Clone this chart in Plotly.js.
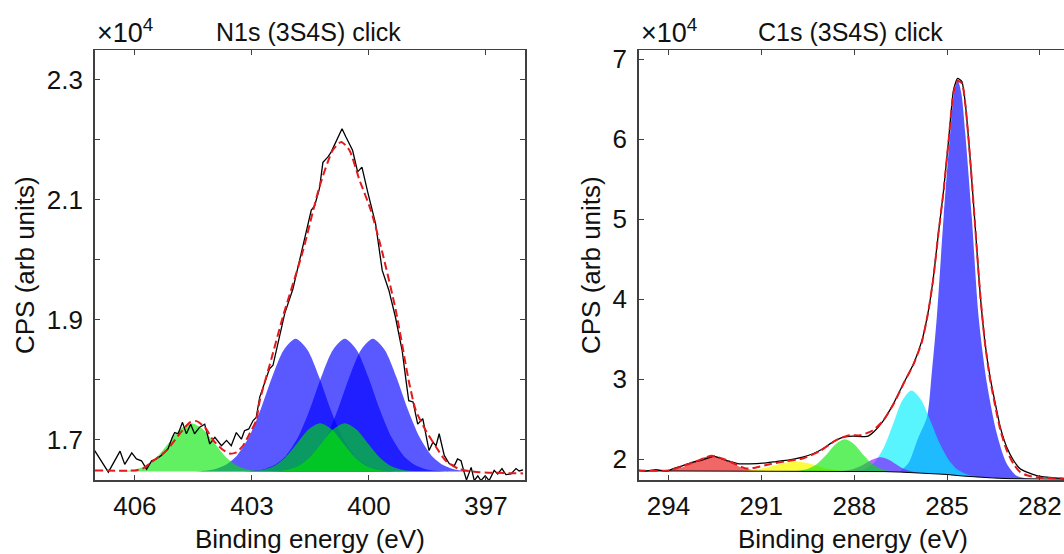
<!DOCTYPE html>
<html><head><meta charset="utf-8">
<script src="https://cdn.plot.ly/plotly-3.0.1.min.js"></script>
<style>html,body{margin:0;padding:0;overflow:hidden;background:#fff}#chart{width:1070px;height:554px}</style>
</head><body><div id="chart"></div>
<script>
// ---------- N1s panel (CPS in units of 1e4) ----------
const N1S_X = [407.03,406.68,406.38,406.26,406.08,405.96,405.83,405.70,405.57,405.45,405.32,405.15,405.04,404.98,404.89,404.78,404.68,404.57,404.47,404.34,404.21,404.08,403.95,403.78,403.65,403.53,403.40,403.27,403.19,403.08,402.97,402.89,402.80,402.55,402.46,402.16,401.95,401.74,401.48,401.39,401.27,401.18,401.05,400.97,400.84,400.69,400.59,400.42,400.29,400.18,400.03,399.83,399.66,399.49,399.32,399.15,399.05,398.98,398.87,398.75,398.62,398.46,398.36,398.28,398.20,398.07,397.94,397.81,397.73,397.64,397.56,397.50,397.38,397.30,397.21,397.13,397.02,396.92,396.79,396.70,396.59,396.49,396.36,396.23,396.15,396.05];
const N1S_Y = [1.682,1.646,1.681,1.659,1.678,1.668,1.665,1.651,1.665,1.668,1.674,1.685,1.704,1.712,1.710,1.729,1.710,1.726,1.710,1.721,1.726,1.693,1.704,1.690,1.699,1.690,1.712,1.701,1.715,1.718,1.732,1.737,1.771,1.818,1.824,1.910,1.951,2.010,2.082,2.090,2.118,2.162,2.171,2.179,2.196,2.218,2.204,2.182,2.146,2.154,2.112,2.060,1.982,1.949,1.904,1.849,1.799,1.765,1.763,1.726,1.735,1.682,1.696,1.690,1.710,1.674,1.660,1.657,1.668,1.665,1.646,1.633,1.654,1.632,1.640,1.632,1.640,1.632,1.649,1.643,1.652,1.642,1.643,1.652,1.648,1.650];
const N1S_FIT_X = [407.03,406.0,405.8,405.57,405.19,404.85,404.59,404.42,404.21,403.99,403.78,403.57,403.40,403.23,403.06,402.89,402.80,402.50,402.21,401.69,401.27,400.93,400.71,400.50,400.24,399.95,399.65,399.31,398.97,398.80,398.54,398.28,398.03,397.68,397.17,396.05];
const N1S_FIT_Y = [1.649,1.649,1.652,1.663,1.682,1.710,1.729,1.731,1.721,1.699,1.685,1.677,1.679,1.690,1.710,1.732,1.765,1.835,1.904,2.015,2.121,2.182,2.196,2.182,2.132,2.082,2.010,1.915,1.795,1.749,1.715,1.688,1.665,1.651,1.646,1.644];
const N1S_BASE = 1.647;
const N1S_B1_X = [404.58,404.28,403.98,403.68,403.38,403.08,402.78,402.48,402.18,401.88,401.58,401.28,400.98,400.68,400.38,400.08,399.78,399.48,399.18];
const N1S_B1_Y = [1.647,1.648,1.6505,1.658,1.674,1.704,1.750,1.805,1.850,1.868,1.850,1.805,1.750,1.704,1.674,1.658,1.6505,1.648,1.647];
const N1S_B2_X = [403.32,403.02,402.72,402.42,402.12,401.82,401.52,401.22,400.92,400.62,400.32,400.02,399.72,399.42,399.12,398.82,398.52,398.22,397.92];
const N1S_B2_Y = [1.647,1.648,1.6505,1.658,1.674,1.704,1.750,1.805,1.850,1.868,1.850,1.805,1.750,1.704,1.674,1.658,1.6505,1.648,1.647];
const N1S_B3_X = [402.60,402.30,402.00,401.70,401.40,401.10,400.80,400.50,400.20,399.90,399.60,399.30,399.00,398.70,398.40,398.10,397.80,397.50,397.20];
const N1S_B3_Y = [1.647,1.648,1.6505,1.658,1.674,1.704,1.750,1.805,1.850,1.868,1.850,1.805,1.750,1.704,1.674,1.658,1.6505,1.648,1.647];
const N1S_G1_X = [406.65,406.35,406.05,405.75,405.45,405.15,404.85,404.55,404.25,403.95,403.65,403.35,403.05,402.75,402.45];
const N1S_G1_Y = [1.647,1.6476,1.6495,1.6558,1.6702,1.6933,1.717,1.7275,1.717,1.6933,1.6702,1.6558,1.6495,1.6476,1.647];
const N1S_G2_X = [403.35,403.05,402.75,402.45,402.15,401.85,401.55,401.25,400.95,400.65,400.35,400.05,399.75,399.45,399.15];
const N1S_G2_Y = [1.647,1.6476,1.6495,1.6558,1.6702,1.6933,1.717,1.7275,1.717,1.6933,1.6702,1.6558,1.6495,1.6476,1.647];
const N1S_G3_X = [402.72,402.42,402.12,401.82,401.52,401.22,400.92,400.62,400.32,400.02,399.72,399.42,399.12,398.82,398.52];
const N1S_G3_Y = [1.647,1.6476,1.6495,1.6558,1.6702,1.6933,1.717,1.7275,1.717,1.6933,1.6702,1.6558,1.6495,1.6476,1.647];
const N1S_XTICKS = [406,403,400,397];
const N1S_YTICKS = [1.7,1.9,2.1,2.3];

// ---------- C1s panel (CPS in units of 1e4) ----------
const C1S_X = [295.04,294.72,294.40,294.07,293.86,293.53,293.21,292.89,292.57,292.35,292.14,291.92,291.71,291.38,290.95,290.52,290.09,289.66,289.33,289.01,288.69,288.36,288.04,287.59,287.38,287.05,286.73,286.41,286.08,285.81,285.60,285.44,285.28,285.11,284.95,284.79,284.66,284.52,284.41,284.25,284.09,283.93,283.77,283.61,283.44,283.28,283.07,282.85,282.64,282.42,282.10,281.77,281.21];
const C1S_Y = [1.869,1.851,1.869,1.851,1.881,1.922,1.964,1.993,2.035,2.018,1.985,1.964,1.943,1.943,1.951,1.972,1.993,2.026,2.069,2.131,2.214,2.277,2.290,2.285,2.339,2.486,2.695,2.945,3.195,3.487,3.862,4.279,4.822,5.364,5.990,6.616,6.762,6.720,6.449,5.740,4.905,4.071,3.446,3.028,2.695,2.402,2.151,1.985,1.881,1.839,1.797,1.776,1.756];
const C1S_FIT_X = [295.0,294.0,293.5,293.0,292.6,292.2,291.9,291.5,291.2,290.7,290.2,289.66,289.12,288.58,288.15,287.8,287.4,287.05,286.7,286.4,286.08,285.81,285.6,285.44,285.28,285.11,284.95,284.79,284.66,284.52,284.41,284.25,284.09,283.93,283.77,283.61,283.44,283.28,283.07,282.85,282.64,282.42,282.1,281.77,281.1];
const C1S_FIT_Y = [1.86,1.86,1.92,1.99,2.045,2.0,1.95,1.885,1.895,1.94,1.975,2.01,2.10,2.24,2.30,2.30,2.36,2.49,2.71,2.95,3.19,3.47,3.86,4.27,4.82,5.36,5.98,6.58,6.73,6.70,6.44,5.74,4.90,4.07,3.44,3.0,2.66,2.37,2.11,1.94,1.84,1.80,1.775,1.765,1.76];
const C1S_BG_X = [295,293,291,289,288,287.5,287,286.5,286,285.5,285,284.5,284,283.5,283,282.5,282,281.1];
const C1S_BG_Y = [1.855,1.854,1.852,1.851,1.85,1.848,1.846,1.84,1.832,1.822,1.81,1.791,1.775,1.766,1.758,1.755,1.754,1.752];
// components: x, top, bottom (background)
const C1S_RED_X = [294.7,294.4,294.1,293.8,293.5,293.2,292.9,292.6,292.3,292.0,291.7,291.4,291.1,290.8,290.5];
const C1S_RED_TOP = [1.853,1.854,1.859,1.874,1.908,1.962,2.018,2.043,2.018,1.962,1.908,1.874,1.859,1.854,1.853];
const C1S_RED_BOT = [1.853,1.853,1.853,1.853,1.853,1.853,1.853,1.853,1.853,1.853,1.853,1.853,1.853,1.853,1.853];
const C1S_YEL_X = [292.0,291.7,291.4,291.1,290.8,290.5,290.2,289.9,289.6,289.3,289.0,288.7,288.4,288.1,287.8];
const C1S_YEL_TOP = [1.851,1.853,1.860,1.874,1.900,1.932,1.960,1.972,1.960,1.932,1.895,1.870,1.857,1.852,1.849];
const C1S_YEL_BOT = [1.852,1.852,1.852,1.852,1.852,1.852,1.851,1.851,1.851,1.851,1.851,1.850,1.850,1.850,1.849];
const C1S_GRN_X = [290.4,290.1,289.8,289.5,289.2,288.9,288.6,288.3,288.0,287.7,287.4,287.1,286.8,286.5,286.2];
const C1S_GRN_TOP = [1.851,1.852,1.857,1.879,1.941,2.056,2.189,2.25,2.189,2.054,1.937,1.874,1.849,1.841,1.834];
const C1S_GRN_BOT = [1.851,1.851,1.851,1.851,1.851,1.850,1.850,1.850,1.850,1.848,1.847,1.846,1.843,1.840,1.834];
const C1S_PUR_X = [288.65,288.35,288.05,287.75,287.45,287.15,286.85,286.55,286.25,285.95,285.65];
const C1S_PUR_TOP = [1.851,1.855,1.874,1.922,1.991,2.026,1.988,1.914,1.859,1.834,1.823];
const C1S_PUR_BOT = [1.850,1.850,1.850,1.848,1.847,1.846,1.844,1.840,1.835,1.829,1.823];
const C1S_CYN_X = [288.25,287.95,287.65,287.35,287.05,286.75,286.45,286.15,285.85,285.55,285.25,284.95,284.65,284.35,284.05,283.75];
const C1S_CYN_TOP = [1.851,1.857,1.880,1.959,2.141,2.433,2.733,2.861,2.751,2.493,2.209,1.995,1.868,1.809,1.782,1.770];
const C1S_CYN_BOT = [1.850,1.850,1.848,1.847,1.846,1.843,1.839,1.835,1.829,1.823,1.816,1.808,1.796,1.786,1.777,1.770];
const C1S_BLU_X = [286.55,286.25,285.95,285.65,285.50,285.33,285.11,284.90,284.78,284.66,284.54,284.41,284.20,283.98,283.71,283.39,283.07,282.74,282.40];
const C1S_BLU_TOP = [1.840,1.95,2.25,2.527,3.05,3.778,5.03,6.07,6.55,6.74,6.58,6.07,5.03,3.78,2.945,2.319,1.944,1.79,1.755];
const C1S_BLU_BOT = [1.840,1.836,1.832,1.824,1.821,1.817,1.811,1.805,1.800,1.797,1.793,1.789,1.781,1.774,1.770,1.764,1.758,1.756,1.755];
const C1S_XTICKS = [294,291,288,285,282];
const C1S_YTICKS = [2,3,4,5,6,7];

// ---------- helpers ----------
function area(xs, tops, bots, color, xa, ya) {
  const px = xs.concat(xs.slice(1, -1).reverse());
  const py = tops.concat(bots.slice(1, -1).reverse());
  return {x: px, y: py, xaxis: xa, yaxis: ya, type: 'scatter', mode: 'lines',
    fill: 'toself', fillcolor: color, line: {width: 0, shape: 'spline', smoothing: 0.8},
    hoverinfo: 'skip', showlegend: false};
}
function flat(xs, v) { return xs.map(() => v); }

const BLUE = 'rgba(0,0,255,0.65)';
const GREEN = 'rgba(0,230,0,0.62)';
const traces = [
  area(N1S_B1_X, N1S_B1_Y, flat(N1S_B1_X, N1S_BASE), BLUE, 'x', 'y'),
  area(N1S_B2_X, N1S_B2_Y, flat(N1S_B2_X, N1S_BASE), BLUE, 'x', 'y'),
  area(N1S_B3_X, N1S_B3_Y, flat(N1S_B3_X, N1S_BASE), BLUE, 'x', 'y'),
  area(N1S_G1_X, N1S_G1_Y, flat(N1S_G1_X, N1S_BASE), GREEN, 'x', 'y'),
  area(N1S_G2_X, N1S_G2_Y, flat(N1S_G2_X, N1S_BASE), GREEN, 'x', 'y'),
  area(N1S_G3_X, N1S_G3_Y, flat(N1S_G3_X, N1S_BASE), GREEN, 'x', 'y'),
  {x: N1S_X, y: N1S_Y, xaxis: 'x', yaxis: 'y', type: 'scatter', mode: 'lines',
   line: {color: '#000', width: 1.3}, showlegend: false},
  {x: N1S_FIT_X, y: N1S_FIT_Y, xaxis: 'x', yaxis: 'y', type: 'scatter', mode: 'lines',
   line: {color: '#e3191c', width: 2, dash: '8px,4px', shape: 'spline', smoothing: 0.6}, showlegend: false},

  area(C1S_RED_X, C1S_RED_TOP, C1S_RED_BOT, 'rgba(232,0,0,0.6)', 'x2', 'y2'),
  area(C1S_YEL_X, C1S_YEL_TOP, C1S_YEL_BOT, 'rgba(250,250,0,0.75)', 'x2', 'y2'),
  area(C1S_BLU_X, C1S_BLU_TOP, C1S_BLU_BOT, BLUE, 'x2', 'y2'),
  area(C1S_CYN_X, C1S_CYN_TOP, C1S_CYN_BOT, 'rgba(0,240,255,0.65)', 'x2', 'y2'),
  area(C1S_PUR_X, C1S_PUR_TOP, C1S_PUR_BOT, 'rgba(140,0,255,0.6)', 'x2', 'y2'),
  area(C1S_GRN_X, C1S_GRN_TOP, C1S_GRN_BOT, GREEN, 'x2', 'y2'),
  {x: C1S_BG_X, y: C1S_BG_Y, xaxis: 'x2', yaxis: 'y2', type: 'scatter', mode: 'lines',
   line: {color: '#000', width: 1}, showlegend: false},
  {x: C1S_X, y: C1S_Y, xaxis: 'x2', yaxis: 'y2', type: 'scatter', mode: 'lines',
   line: {color: '#000', width: 1.3, shape: 'spline', smoothing: 0.5}, showlegend: false},
  {x: C1S_FIT_X, y: C1S_FIT_Y, xaxis: 'x2', yaxis: 'y2', type: 'scatter', mode: 'lines',
   line: {color: '#e3191c', width: 2, dash: '8px,4px', shape: 'spline', smoothing: 0.6}, showlegend: false}
];

const W = 1070, TOP = 50, PH = 430;
const FONT = 'Liberation Sans, Arial, Helvetica, sans-serif';
const AX = {showline: true, linecolor: '#404040', linewidth: 1.5, mirror: 'ticks', ticks: 'inside',
  ticklen: 5, tickwidth: 1, tickcolor: '#404040', showgrid: false, zeroline: false,
  tickfont: {family: FONT, size: 26, color: '#111'}, fixedrange: true};
const px = v => v / W;
const py = v => (TOP + PH - v) / PH;

const layout = {
  width: W, height: 554, margin: {l: 0, r: 0, t: TOP, b: 554 - TOP - PH},
  paper_bgcolor: '#fff', plot_bgcolor: '#fff', showlegend: false,
  xaxis: Object.assign({}, AX, {domain: [px(94.7), px(525)], range: [407.03, 396.0], anchor: 'y',
    tickmode: 'array', tickvals: N1S_XTICKS, ticktext: N1S_XTICKS.map(String), ticklabelstandoff: 2}),
  yaxis: Object.assign({}, AX, {domain: [0, 1], range: [1.633, 2.349], anchor: 'x',
    tickmode: 'array', tickvals: N1S_YTICKS, ticktext: N1S_YTICKS.map(v => v.toFixed(1)), ticklabelstandoff: 5,
    minor: {tickmode: 'linear', tick0: 1.6, dtick: 0.1, ticks: 'inside', ticklen: 5, tickcolor: '#404040', showgrid: false}}),
  xaxis2: Object.assign({}, AX, {domain: [px(638.7), px(1068.7)], range: [294.96, 281.07], anchor: 'y2',
    tickmode: 'array', tickvals: C1S_XTICKS, ticktext: C1S_XTICKS.map(String), ticklabelstandoff: 2}),
  yaxis2: Object.assign({}, AX, {domain: [0, 1], range: [1.741, 7.116], anchor: 'x2',
    tickmode: 'array', tickvals: C1S_YTICKS, ticktext: C1S_YTICKS.map(String), ticklabelstandoff: 5}),
  annotations: [
    {text: 'N1s (3S4S) click', x: px(308), y: py(32.5), xref: 'paper', yref: 'paper', xanchor: 'center', yanchor: 'middle', showarrow: false, font: {family: FONT, size: 25, color: '#111'}},
    {text: 'C1s (3S4S) click', x: px(850), y: py(32.5), xref: 'paper', yref: 'paper', xanchor: 'center', yanchor: 'middle', showarrow: false, font: {family: FONT, size: 25, color: '#111'}},
    {text: '×10<sup>4</sup>', x: px(95), y: py(50), xref: 'paper', yref: 'paper', xanchor: 'left', yanchor: 'bottom', showarrow: false, font: {family: FONT, size: 27, color: '#111'}},
    {text: '×10<sup>4</sup>', x: px(639), y: py(50), xref: 'paper', yref: 'paper', xanchor: 'left', yanchor: 'bottom', showarrow: false, font: {family: FONT, size: 27, color: '#111'}},
    {text: 'Binding energy (eV)', x: px(310), y: py(539.4), xref: 'paper', yref: 'paper', xanchor: 'center', yanchor: 'middle', showarrow: false, font: {family: FONT, size: 26, color: '#111'}},
    {text: 'Binding energy (eV)', x: px(852.5), y: py(539.4), xref: 'paper', yref: 'paper', xanchor: 'center', yanchor: 'middle', showarrow: false, font: {family: FONT, size: 26, color: '#111'}},
    {text: 'CPS (arb units)', x: px(25), y: py(265), xref: 'paper', yref: 'paper', xanchor: 'center', yanchor: 'middle', textangle: -90, showarrow: false, font: {family: FONT, size: 26, color: '#111'}},
    {text: 'CPS (arb units)', x: px(591), y: py(265), xref: 'paper', yref: 'paper', xanchor: 'center', yanchor: 'middle', textangle: -90, showarrow: false, font: {family: FONT, size: 26, color: '#111'}}
  ]
};

Plotly.newPlot('chart', traces, layout, {staticPlot: true, displayModeBar: false});
</script>
</body></html>
